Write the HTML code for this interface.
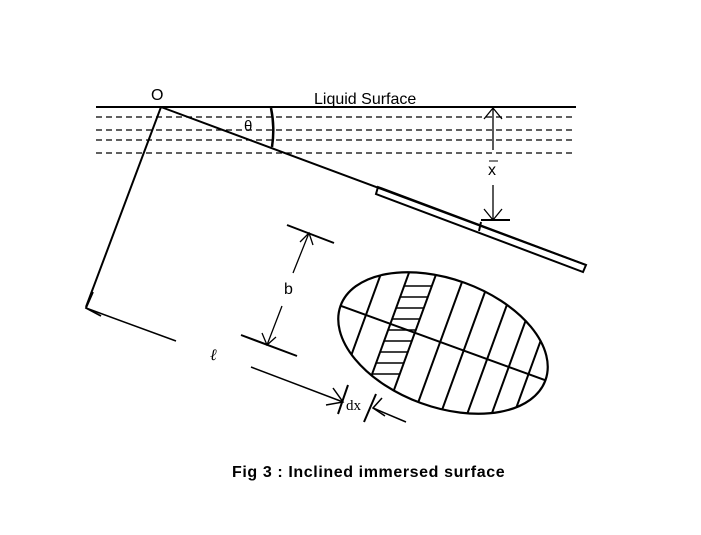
<!DOCTYPE html>
<html><head><style>body{margin:0;background:#fff}</style></head><body>
<svg width="701" height="530" xmlns="http://www.w3.org/2000/svg" font-family="Liberation Sans, sans-serif">
<defs>
<clipPath id="ec"><ellipse cx="443" cy="343" rx="109" ry="64" transform="rotate(20 443 343)"/></clipPath>
<clipPath id="sc"><polygon points="-56,-80 -30,-80 -30,80 -56,80" transform="translate(443 343) rotate(20)"/></clipPath>
</defs>
<g stroke="#000" fill="none">
<line x1="96" y1="107" x2="576" y2="107" stroke-width="2"/>
<g stroke-width="1.3" stroke-dasharray="6,4">
<line x1="96" y1="117" x2="576" y2="117"/><line x1="96" y1="130" x2="576" y2="130"/>
<line x1="96" y1="140" x2="576" y2="140"/><line x1="96" y1="153" x2="576" y2="153"/>
</g>
<line x1="161" y1="107" x2="586" y2="265" stroke-width="2"/>
<polygon points="378,187 586,265 583,272 376,194" stroke-width="2"/>
<line x1="481" y1="222" x2="479" y2="231" stroke-width="2"/>
<path d="M271,108 A110,110 0 0 1 272,147" stroke-width="2.5"/>
<line x1="161" y1="107" x2="86" y2="307" stroke-width="2"/>
<path d="M93,292 L86,308 L101,316" stroke-width="1.8"/>
<line x1="86" y1="308" x2="176" y2="341" stroke-width="1.5"/>
<line x1="251" y1="367" x2="343" y2="402" stroke-width="1.5"/>
<path d="M333,388 L343,402 L326,405" stroke-width="1.5"/>
<line x1="348" y1="385" x2="338" y2="414" stroke-width="2"/>
<line x1="376" y1="394" x2="364" y2="422" stroke-width="2"/>
<line x1="406" y1="422" x2="373" y2="408" stroke-width="1.5"/>
<path d="M382,398 L373,408 L385,416" stroke-width="1.5"/>
<line x1="493" y1="108" x2="493" y2="150" stroke-width="1.3"/>
<line x1="493" y1="185" x2="493" y2="220" stroke-width="1.3"/>
<path d="M484,119 L493,108 L502,119 M484,209 L493,220 L502,209" stroke-width="1.3"/>
<line x1="481" y1="220" x2="510" y2="220" stroke-width="2"/>
<line x1="287" y1="225" x2="334" y2="243" stroke-width="2"/>
<line x1="241" y1="335" x2="297" y2="356" stroke-width="2"/>
<line x1="309" y1="233" x2="293" y2="273" stroke-width="1.3"/>
<line x1="282" y1="306" x2="267" y2="345" stroke-width="1.3"/>
<path d="M300,242 L309,233 L313,245 M262,333 L267,345 L276,337" stroke-width="1.3"/>
<g clip-path="url(#ec)" stroke-width="2">
<g transform="translate(443 343) rotate(20)">
<line x1="-82" y1="-80" x2="-82" y2="80"/><line x1="-56" y1="-80" x2="-56" y2="80"/>
<line x1="-30" y1="-80" x2="-30" y2="80"/><line x1="-3" y1="-80" x2="-3" y2="80"/>
<line x1="22" y1="-80" x2="22" y2="80"/><line x1="47" y1="-80" x2="47" y2="80"/>
<line x1="70" y1="-80" x2="70" y2="80"/><line x1="91" y1="-80" x2="91" y2="80"/>
<line x1="-120" y1="0" x2="120" y2="0"/>
</g>
<g clip-path="url(#sc)" stroke-width="1.5">
<line x1="300" y1="286" x2="500" y2="286"/><line x1="300" y1="297" x2="500" y2="297"/>
<line x1="300" y1="308" x2="500" y2="308"/><line x1="300" y1="319" x2="500" y2="319"/>
<line x1="300" y1="330" x2="500" y2="330"/><line x1="300" y1="341" x2="500" y2="341"/>
<line x1="300" y1="352" x2="500" y2="352"/><line x1="300" y1="363" x2="500" y2="363"/>
<line x1="300" y1="374" x2="500" y2="374"/>
</g>
</g>
<ellipse cx="443" cy="343" rx="109" ry="64" transform="rotate(20 443 343)" stroke-width="2.2"/>
</g>
<g font-size="16" fill="#000">
<text x="151" y="100">O</text>
<text x="314" y="104">Liquid Surface</text>
<text x="244" y="131" font-size="15">θ</text>
<text x="488" y="175">x</text>
<line x1="489" y1="161" x2="498" y2="161" stroke="#000"/>
<text x="284" y="294">b</text>
<text x="210" y="360" font-family="Liberation Serif, serif" font-style="italic">ℓ</text>
<text x="346" y="410" font-family="Liberation Serif, serif" font-size="15">dx</text>
<text x="232" y="477" font-weight="bold" font-size="16" letter-spacing="0.6">Fig 3 : Inclined immersed surface</text>
</g>
</svg>
</body></html>
